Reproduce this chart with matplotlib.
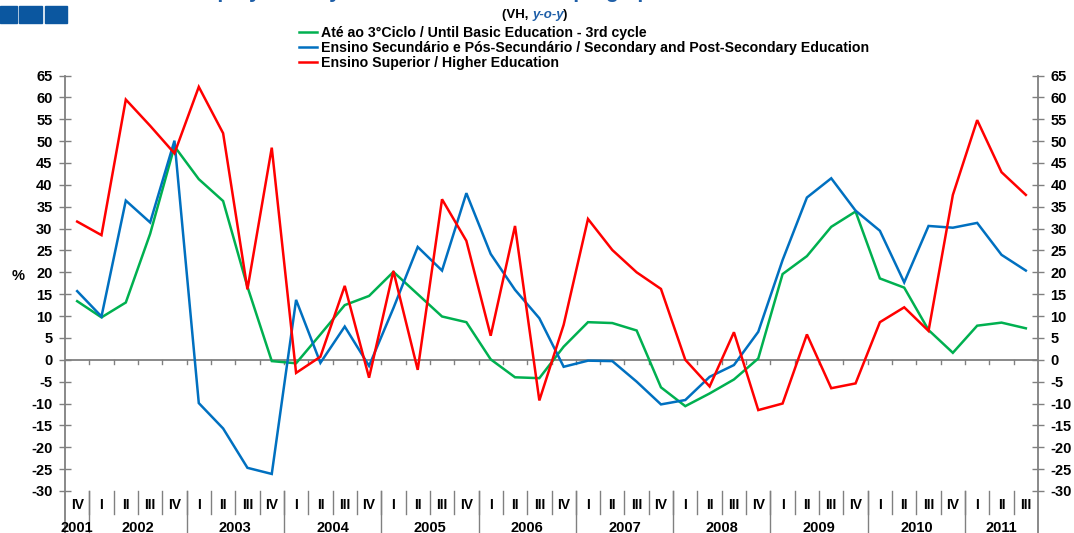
import matplotlib
matplotlib.use("Agg")
import matplotlib.pyplot as plt
import matplotlib.transforms as mtransforms
from matplotlib.patches import Rectangle
import numpy as np

plt.rcParams["font.family"] = ["Liberation Sans", "DejaVu Sans"]

# quarters 2001 IV .. 2011 III
quarters = ["IV"] + ["I", "II", "III", "IV"] * 9 + ["I", "II", "III"]
years = ["2001"] + [str(y) for y in range(2002, 2011)] + ["2011"]
year_len = [1] + [4] * 9 + [3]

basic = [13.4, 9.7, 13.1, 28.8, 48.8, 41.3, 36.3, 16.7, -0.3, -0.8,
         5.8, 12.5, 14.6, 20.1, 15.0, 9.9, 8.6, 0.1, -4.0, -4.2,
         3.0, 8.6, 8.4, 6.7, -6.3, -10.6, -7.7, -4.5, 0.3, 19.6,
         23.7, 30.4, 33.9, 18.6, 16.5, 6.8, 1.6, 7.8, 8.5, 7.2]
secondary = [15.7, 9.9, 36.4, 31.4, 50.1, -9.9, -15.7, -24.7, -26.1, 13.7,
             -0.7, 7.6, -1.4, 11.8, 25.8, 20.4, 38.1, 24.2, 16.0, 9.5,
             -1.6, -0.2, -0.3, -5.0, -10.2, -9.2, -3.9, -1.2, 6.4, 22.8,
             37.1, 41.5, 34.1, 29.5, 17.7, 30.6, 30.2, 31.3, 24.0, 20.4]
higher = [31.6, 28.5, 59.5, 53.5, 47.2, 62.4, 51.8, 16.1, 48.5, -3.0,
          0.7, 16.9, -4.1, 20.3, -2.3, 36.7, 27.2, 5.5, 30.6, -9.3,
          8.0, 32.2, 25.1, 20.0, 16.2, 0.0, -6.1, 6.3, -11.5, -10.0,
          5.8, -6.5, -5.4, 8.6, 12.0, 6.6, 37.7, 54.8, 42.9, 37.7]

labels = ["Até ao 3°Ciclo / Until Basic Education - 3rd cycle",
          "Ensino Secundário e Pós-Secundário / Secondary and Post-Secondary Education",
          "Ensino Superior / Higher Education"]
colors = ["#00b050", "#0070c0", "#ff0000"]

W, H = 1074, 533
fig = plt.figure(figsize=(W / 100, H / 100), dpi=100)
L, R, T, B = 65, 1038, 75.5, 491
ax = fig.add_axes([L / W, 1 - B / H, (R - L) / W, (B - T) / H])

x = np.arange(len(quarters))
lines = []
for ys, c, lab in zip([basic, secondary, higher], colors, labels):
    ln, = ax.plot(x, ys, color=c, lw=1.8, label=lab, solid_joinstyle="miter")
    lines.append(ln)

ax.set_xlim(-0.5, len(quarters) - 0.5)
ax.set_ylim(-30, 65)
for s in ax.spines.values():
    s.set_visible(False)

grey = "#808080"
ax.set_xticks([])
yt = np.arange(-30, 66, 5)
ax.set_yticks(yt)
ax.set_yticklabels([str(v) for v in yt], fontweight="bold", fontsize=10.5)
ax.tick_params(axis="y", which="both", direction="inout", length=8, color=grey,
               width=1, left=True, right=True, labelleft=True, labelright=True, pad=5)
ax.set_ylabel("%", rotation=0, fontweight="bold", fontsize=10.5)
ax.yaxis.set_label_coords(-0.048, 0.50)

# zero line with small ticks at quarter boundaries
ax.axhline(0, color=grey, lw=1.3, zorder=1)
tr = mtransforms.blended_transform_factory(ax.transData, ax.transAxes)
bounds = np.arange(len(quarters) + 1) - 0.5
for b in bounds[1:-1]:
    ax.plot([b, b], [0, -1.0], color=grey, lw=1, zorder=1)

# side axes running down to the bottom of the figure
ax.plot([-0.5, -0.5], [-0.102, 1.0], transform=tr, color=grey, lw=1.3, clip_on=False)
ax.plot([bounds[-1]] * 2, [-0.102, 1.0], transform=tr, color=grey, lw=1.3, clip_on=False)

# category labels below the plot
year_starts = np.cumsum([0] + year_len[:-1])
for i, q in enumerate(quarters):
    ax.text(i, -0.034, q, transform=tr, ha="center", va="center",
            fontsize=10, fontweight="bold")
for b in bounds[1:-1]:
    ax.plot([b, b], [0, -0.055], transform=tr, color=grey, lw=1, clip_on=False)
for s, n, yr in zip(year_starts, year_len, years):
    ax.text(s + (n - 1) / 2, -0.088, yr, transform=tr, ha="center", va="center",
            fontsize=10.5, fontweight="bold")
    if s > 0:
        ax.plot([s - 0.5] * 2, [0, -0.102], transform=tr, color=grey, lw=1, clip_on=False)

# legend
fig.legend(handles=lines, loc="upper left", bbox_to_anchor=(293 / W, 1 - 20 / H),
           frameon=False, prop={"weight": "bold", "size": 10.2},
           handlelength=1.3, handletextpad=0.3, labelspacing=0.08, borderaxespad=0)

# header: clipped title, subtitle, logo blocks
fig.text(537 / W, 1 + 2 / H, "Employment by level of education / Emprego por nível de escolaridade",
         ha="center", va="baseline", fontsize=15, fontweight="bold", color="#1f5fa8")
fig.text(532 / W, 1 - 15 / H, "(VH, ", ha="right", va="center", fontsize=9.5, fontweight="bold")
fig.text(533 / W, 1 - 15 / H, "y-o-y", ha="left", va="center", fontsize=9.5,
         fontweight="bold", style="italic", color="#1f5fa8")
fig.text(563 / W, 1 - 15 / H, ")", ha="left", va="center", fontsize=9.5, fontweight="bold")
for x0, x1 in [(0, 17), (19, 42), (45, 67)]:
    fig.patches.append(Rectangle((x0 / W, 1 - 23 / H), (x1 - x0) / W, 17 / H,
                                 transform=fig.transFigure, color="#0b57a0"))

fig.savefig("out.png", dpi=100)
